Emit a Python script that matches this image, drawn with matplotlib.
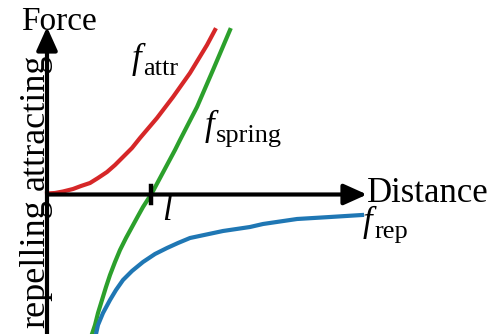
import numpy as np
import matplotlib.pyplot as plt

plt.rcParams['font.family'] = 'Liberation Serif'

# curves (distance, force)
attr_d = [0, 0.08, 0.16, 0.26, 0.34, 0.43, 0.51, 0.60, 0.68, 0.76, 0.85, 0.93,
          1.10, 1.26, 1.43, 1.60, 1.68]
attr_f = [0.01, 0.015, 0.03, 0.055, 0.085, 0.115, 0.165, 0.225, 0.295, 0.375,
          0.465, 0.565, 0.765, 0.975, 1.215, 1.495, 1.645]

spring_d = [0.45, 0.48, 0.51, 0.55, 0.59, 0.63, 0.68, 0.73, 0.79, 0.85, 0.91,
            0.96, 1.05, 1.28, 1.33, 1.50, 1.66, 1.83]
spring_f = [-1.395, -1.305, -1.185, -1.055, -0.925, -0.805, -0.675, -0.555, -0.435,
            -0.325, -0.215, -0.125, 0.015, 0.445, 0.545, 0.875, 1.245, 1.645]

rep_d = [0.49, 0.51, 0.56, 0.63, 0.69, 0.76, 0.85, 0.96, 1.08, 1.20, 1.31, 1.43,
         1.76, 2.03, 2.16, 2.50, 2.83, 3.15]
rep_f = [-1.395, -1.305, -1.185, -1.055, -0.955, -0.855, -0.765, -0.675, -0.595,
         -0.535, -0.485, -0.435, -0.365, -0.325, -0.295, -0.245, -0.225, -0.205]

l_pos = 1.04

fig = plt.figure(figsize=(4.9, 3.34), dpi=100)
ax = fig.add_axes([0, 0, 1, 1])
ax.set_xlim(-0.47, 4.43)
ax.set_ylim(-1.395, 1.945)
ax.axis('off')

arrow = dict(arrowstyle='-|>,head_length=1.0,head_width=0.45', mutation_scale=14,
             lw=3, color='black', shrinkA=0, shrinkB=0)
ax.annotate('', xy=(3.20, 0), xytext=(0, 0), arrowprops=arrow)
ax.annotate('', xy=(0, 1.675), xytext=(0, -1.395), arrowprops=arrow)

ax.plot(attr_d, attr_f, color='#d62728', lw=3, solid_joinstyle='round')
ax.plot(spring_d, spring_f, color='#2ca02c', lw=3, solid_joinstyle='round')
ax.plot(rep_d, rep_f, color='#1f77b4', lw=3, solid_joinstyle='round')

ax.plot([l_pos, l_pos], [-0.085, 0.085], color='black', lw=3.2)

ax.text(-0.26, 1.645, 'Force', fontsize=24, va='baseline', ha='left')
ax.text(3.20, -0.075, 'Distance', fontsize=25, va='baseline', ha='left')
ax.text(-0.03, 0.045, 'attracting', fontsize=26, rotation=90, rotation_mode='anchor',
        ha='left', va='baseline')
ax.text(-0.03, -1.335, 'repelling', fontsize=26, rotation=90, rotation_mode='anchor',
        ha='left', va='baseline')


def flabel(x, y, sub):
    ax.text(x, y, 'f', fontsize=25, style='italic', va='baseline', ha='left')
    ax.annotate(sub, xy=(x, y), xytext=(8, -4.5), textcoords='offset points',
                fontsize=19, va='baseline', ha='left')


flabel(0.85, 1.26, 'attr')
flabel(1.58, 0.59, 'spring')
flabel(3.16, -0.37, 'rep')
ax.text(1.15, -0.255, 'l', fontsize=25, style='italic', va='baseline', ha='left')

fig.savefig('out.png', dpi=100)
